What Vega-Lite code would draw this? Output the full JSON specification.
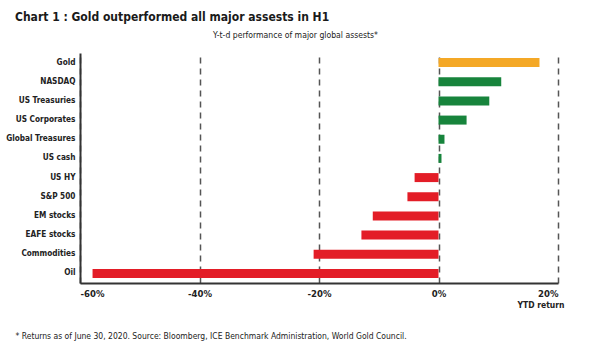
{
  "$schema": "https://vega.github.io/schema/vega-lite/v6.json",
  "width": 478,
  "height": 230,
  "autosize": {"type": "none"},
  "padding": {"left": 80, "top": 53, "right": 33, "bottom": 75},
  "background": "white",
  "title": {
    "text": "Chart 1 : Gold outperformed all major assests in H1",
    "anchor": "start",
    "frame": "group",
    "dx": -65,
    "dy": -2,
    "font": "DejaVu Sans Condensed, Roboto, sans-serif",
    "fontSize": 12,
    "fontWeight": "bold",
    "color": "#1a1a1a"
  },
  "config": {
    "view": {"stroke": null},
    "font": "DejaVu Sans Condensed, Roboto, sans-serif"
  },
  "data": {
    "values": [
      {"asset": "Gold", "ret": 16.9, "kind": "Gold"},
      {"asset": "NASDAQ", "ret": 10.5, "kind": "Gain"},
      {"asset": "US Treasuries", "ret": 8.5, "kind": "Gain"},
      {"asset": "US Corporates", "ret": 4.7, "kind": "Gain"},
      {"asset": "Global Treasures", "ret": 1.0, "kind": "Gain"},
      {"asset": "US cash", "ret": 0.5, "kind": "Gain"},
      {"asset": "US HY", "ret": -4.0, "kind": "Loss"},
      {"asset": "S&P 500", "ret": -5.2, "kind": "Loss"},
      {"asset": "EM stocks", "ret": -11.0, "kind": "Loss"},
      {"asset": "EAFE stocks", "ret": -12.9, "kind": "Loss"},
      {"asset": "Commodities", "ret": -20.9, "kind": "Loss"},
      {"asset": "Oil", "ret": -57.9, "kind": "Loss"}
    ]
  },
  "resolve": {"axis": {"x": "independent"}},
  "layer": [
    {
      "mark": {"type": "bar", "size": 9},
      "encoding": {
        "y": {
          "field": "asset",
          "type": "nominal",
          "sort": null,
          "scale": {"paddingInner": 0.5, "paddingOuter": 0.25},
          "axis": {
            "title": "* Returns as of June 30, 2020. Source: Bloomberg, ICE Benchmark Administration, World Gold Council.",
            "titleAngle": 0,
            "titleAlign": "left",
            "titleBaseline": "middle",
            "titleX": -65,
            "titleY": 282,
            "titleFontSize": 8.5,
            "titleFontWeight": "normal",
            "titleColor": "#222",
            "ticks": false,
            "labelPadding": 5,
            "labelFontSize": 8.2,
            "labelFontWeight": "bold",
            "labelColor": "#222",
            "domainColor": "#333",
            "domainWidth": 2
          }
        },
        "x": {
          "field": "ret",
          "type": "quantitative",
          "scale": {"domain": [-60, 20], "nice": false, "zero": false},
          "axis": {
            "orient": "bottom",
            "values": [-60, -40, -20, 0, 20],
            "labelExpr": "datum.value + '%'",
            "ticks": false,
            "labelPadding": 5,
            "labelFontSize": 9.5,
            "labelFontWeight": "bold",
            "labelColor": "#222",
            "domainColor": "#333",
            "domainWidth": 2,
            "grid": true,
            "gridColor": "#555",
            "gridWidth": 1.5,
            "gridDash": [6, 5],
            "title": "YTD return",
            "titleAnchor": "end",
            "titleAlign": "right",
            "titleX": 484,
            "titlePadding": 3,
            "titleFontSize": 8.5,
            "titleFontWeight": "bold",
            "titleColor": "#222"
          }
        },
        "color": {
          "field": "kind",
          "type": "nominal",
          "scale": {"domain": ["Gold", "Gain", "Loss"], "range": ["#F4A826", "#17843C", "#E31D27"]},
          "legend": null
        }
      }
    },
    {
      "mark": {"type": "rule", "color": "#555", "strokeWidth": 1.5, "strokeDash": [6, 5], "opacity": 0},
      "encoding": {
        "x": {
          "datum": 0,
          "type": "quantitative",
          "axis": {
            "orient": "top",
            "labels": false,
            "ticks": false,
            "domain": false,
            "grid": false,
            "title": "Y-t-d performance of major global assests*",
            "titleX": 215,
            "titleFontSize": 8.6,
            "titleFontWeight": "normal",
            "titleColor": "#222",
            "titlePadding": 14
          }
        }
      }
    }
  ]
}
